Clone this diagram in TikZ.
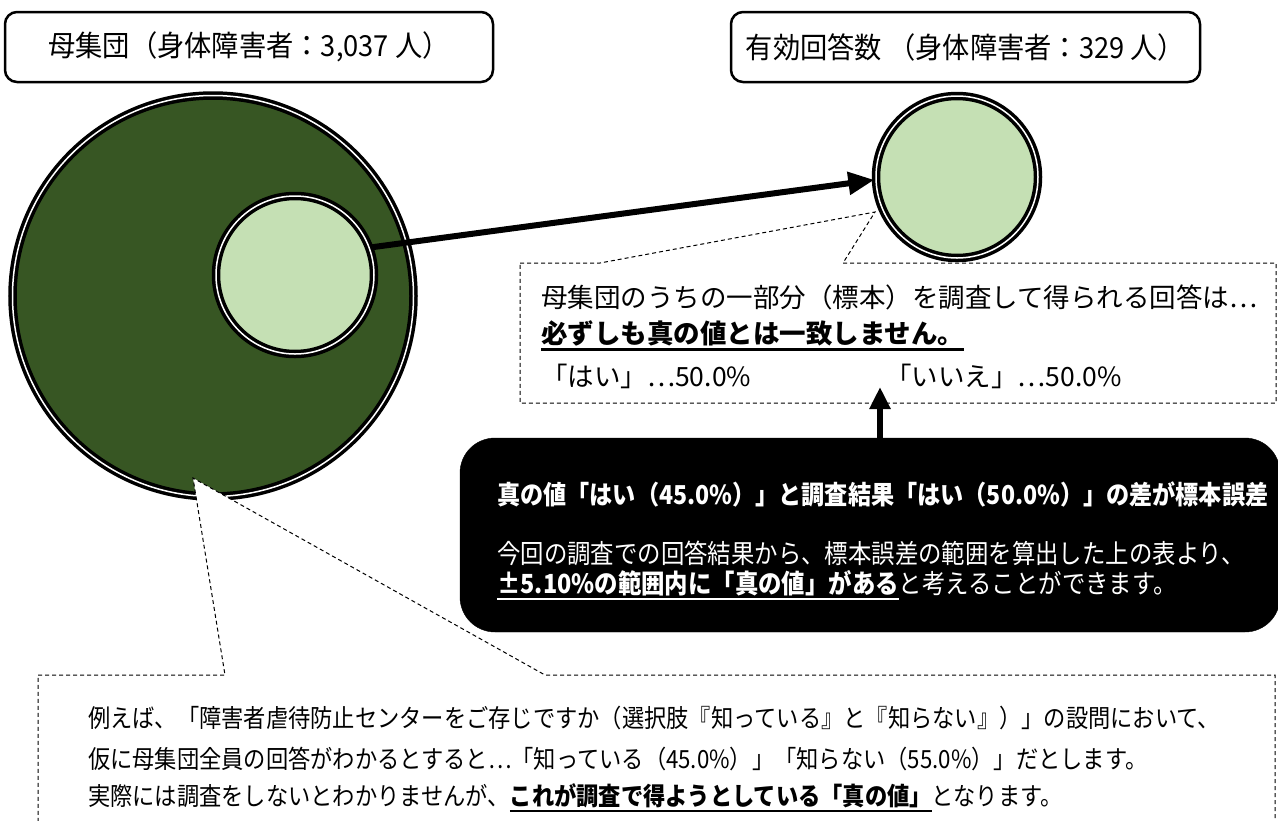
\documentclass[tikz,border=0pt]{standalone}
\usepackage{fontspec}
\setmainfont{Noto Sans CJK JP}
\newfontfamily\condfont[FakeStretch=0.89]{Noto Sans CJK JP}
\newfontfamily\titlefont[FakeStretch=0.94]{Noto Sans CJK JP}
\usetikzlibrary{arrows.meta}
\definecolor{dkgreen}{HTML}{375623}
\definecolor{ltgreen}{HTML}{C5E0B4}
\newcommand\myul[1]{\leavevmode\setbox0=\hbox{#1}\rlap{\vrule width\wd0 height -4.5pt depth 7pt}\box0}
\begin{document}
\begin{tikzpicture}[x=1pt,y=-1pt,
  titlebox/.style={draw=black, line width=2.5pt, rounded corners=12pt, fill=white, minimum height=70pt, inner sep=0pt, font=\titlefont\fontsize{29}{32}\selectfont},
  ring/.style={circle, draw=black, line width=3.5pt, double=white, double distance=1.5pt, inner sep=0pt},
  callout/.style={draw=black, fill=white, line width=1pt, dash pattern=on 4pt off 3pt},
  bigarrow/.style={line width=6pt, -{Triangle[length=26pt,width=22pt]}},
  txt/.style={anchor=west, inner sep=0pt},
  rtxt/.style={txt, font=\fontsize{26.5}{30}\selectfont},
  btxt/.style={txt, text=white, font=\condfont\fontsize{26.3}{30}\selectfont},
  ctxt/.style={txt, font=\condfont\fontsize{25}{28}\selectfont},
]
\useasboundingbox (0,0) rectangle (1278,820);

\node[titlebox, minimum width=488pt] (popbox) at (249,47) {母集団（身体障害者：3,037 人）};
\node[titlebox, minimum width=469pt] (ansbox) at (965.5,47) {有効回答数 （身体障害者：329 人）};

\node[ring, fill=dkgreen, minimum size=401pt] (pop) at (213,296) {};
\node[ring, fill=ltgreen, minimum size=158pt] (smp) at (295,275) {};
\node[ring, fill=ltgreen, minimum size=162pt] (res) at (957,177) {};

\coordinate (tipA) at (875,212);
\draw[callout] (520,263) -- (600,263) -- (tipA) -- (843,263) -- (1276,263) -- (1276,403) -- (520,403) -- cycle;

\coordinate (tipB) at (193,478);
\draw[callout] (38,675) -- (225,675) -- (tipB) -- (545,675) -- (1275,675) -- (1275,840) -- (38,840) -- cycle;

\node[draw=black, fill=black, rounded corners=35pt, minimum width=820pt, minimum height=194pt, inner sep=0pt] (blk) at (870,535) {};

\coordinate (upTip) at (880,387);
\draw[line width=6pt, -{Triangle[length=22pt,width=20pt]}] (blk.north -| upTip) -- (upTip);

\draw[bigarrow] (smp.20) -- (res.182);

\node[rtxt] (t1) at (541,297) {母集団のうちの一部分（標本）を調査して得られる回答は…};
\node[rtxt, font=\fontsize{26.5}{30}\selectfont\bfseries] (t2) at (541,336) {\myul{必ずしも真の値とは一致しません。}};
\node[rtxt] (t3) at (541,376) {「はい」…50.0\%};
\node[rtxt] (t4) at (885,376) {「いいえ」…50.0\%};

\node[btxt, font=\condfont\fontsize{26}{30}\selectfont\bfseries] (b1) at (497,494) {真の値「はい（45.0\%）」と調査結果「はい（50.0\%）」の差が標本誤差};
\node[btxt] (b2) at (497,553) {今回の調査での回答結果から、標本誤差の範囲を算出した上の表より、};
\node[btxt] (b3) at (497,585) {\myul{\bfseries ±5.10\%の範囲内に「真の値」がある}と考えることができます。};

\node[ctxt] (c1) at (88,718) {例えば、「障害者虐待防止センターをご存じですか（選択肢『知っている』と『知らない』）」の設問において、};
\node[ctxt] (c2) at (88,759) {仮に母集団全員の回答がわかるとすると…「知っている（45.0\%）」「知らない（55.0\%）」だとします。};
\node[ctxt] (c3) at (88,798) {実際には調査をしないとわかりませんが、\myul{\bfseries これが調査で得ようとしている「真の値」}となります。};
\end{tikzpicture}
\end{document}
